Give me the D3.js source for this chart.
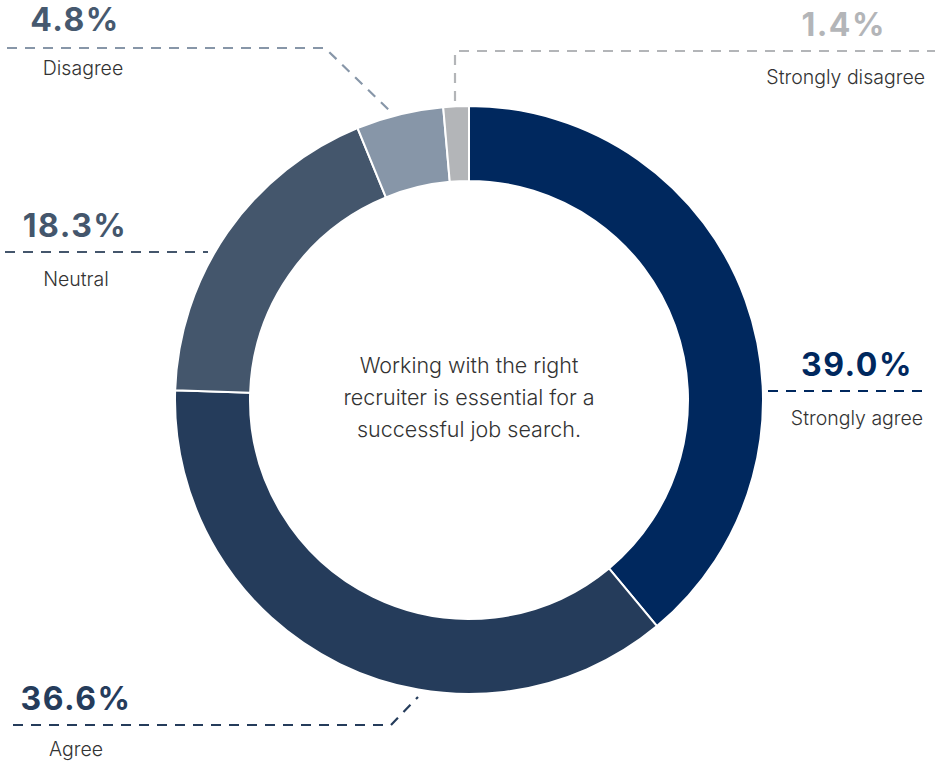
<!DOCTYPE html>
<html>
<head>
<meta charset="utf-8">
<script src="https://cdn.jsdelivr.net/npm/d3@7"></script>
<style>
  html, body { margin: 0; padding: 0; background: #ffffff; }
  svg { display: block; }
</style>
</head>
<body>
<svg id="chart" width="940" height="763"></svg>
<script>
// Survey responses, clockwise from 12 o'clock
const categories = ["Strongly agree", "Agree", "Neutral", "Disagree", "Strongly disagree"];
const shares = [39.0, 36.6, 18.3, 4.8, 1.4];
const centerLines = ["Working with the right", "recruiter is essential for a", "successful job search."];

// Visual styling per category
const sliceColors = ["#00285e", "#253c5b", "#44566c", "#8796a8", "#b3b5b8"];
const valueColors = ["#00285e", "#253c5b", "#44566c", "#46596f", "#b3b5b8"];

// Callout layout: leader polyline, value text and name text placement
const callouts = {
  "Strongly agree":    { path: [[768, 391], [928, 391]], value: [857, 376, "middle"], name: [857, 425, "middle"] },
  "Agree":             { path: [[13, 725], [391, 725], [418, 697]], value: [76, 710, "middle"], name: [76, 756, "middle"] },
  "Neutral":           { path: [[5, 252], [208, 252]], value: [75, 237, "middle"], name: [76, 286, "middle"] },
  "Disagree":          { path: [[7, 48], [325, 48], [393, 114]], value: [75, 31, "middle"], name: [83, 75, "middle"] },
  "Strongly disagree": { path: [[455, 101], [455, 51], [935, 51]], value: [886, 36, "end"], name: [925, 84, "end"] }
};

const svg = d3.select("#chart");
const cx = 469, cy = 400;
const outerR = 294, innerR = 219;

const data = categories.map((c, i) => ({ category: c, value: shares[i], i }));

const pie = d3.pie().value(d => d.value).sort(null);
const arc = d3.arc().innerRadius(innerR).outerRadius(outerR);
const color = d3.scaleOrdinal().domain(categories).range(sliceColors);
const valueColor = d3.scaleOrdinal().domain(categories).range(valueColors);

const g = svg.append("g").attr("transform", `translate(${cx},${cy})`);

g.selectAll("path.slice")
  .data(pie(data))
  .join("path")
  .attr("class", "slice")
  .attr("d", arc)
  .attr("fill", d => color(d.data.category))
  .attr("stroke", "#ffffff")
  .attr("stroke-width", 2);

// Centre caption
const caption = svg.append("text")
  .attr("x", cx)
  .attr("y", 373)
  .attr("text-anchor", "middle")
  .attr("font-family", "Inter, 'Open Sans', sans-serif")
  .attr("font-weight", 300)
  .attr("font-size", 21.5)
  .attr("fill", "#333333");
caption.selectAll("tspan")
  .data(centerLines)
  .join("tspan")
  .attr("x", cx)
  .attr("dy", (d, i) => i === 0 ? 0 : 32)
  .text(d => d);

// Callouts
const line = d3.line();
const fmt = d3.format(".1f");
const labelG = svg.append("g");

data.forEach(d => {
  const c = callouts[d.category];
  labelG.append("path")
    .attr("d", line(c.path))
    .attr("fill", "none")
    .attr("stroke", color(d.category))
    .attr("stroke-width", 2.2)
    .attr("stroke-dasharray", "10,8");

  labelG.append("text")
    .attr("x", c.value[0])
    .attr("y", c.value[1])
    .attr("text-anchor", c.value[2])
    .attr("font-family", "Inter, 'Open Sans', sans-serif")
    .attr("font-weight", 700)
    .attr("font-size", 32)
    .attr("letter-spacing", 1.5)
    .attr("fill", valueColor(d.category))
    .text(fmt(d.value) + "%");

  labelG.append("text")
    .attr("x", c.name[0])
    .attr("y", c.name[1])
    .attr("text-anchor", c.name[2])
    .attr("font-family", "Inter, 'Open Sans', sans-serif")
    .attr("font-weight", 300)
    .attr("font-size", 19.5)
    .attr("fill", "#333333")
    .text(d.category);
});
</script>
</body>
</html>
